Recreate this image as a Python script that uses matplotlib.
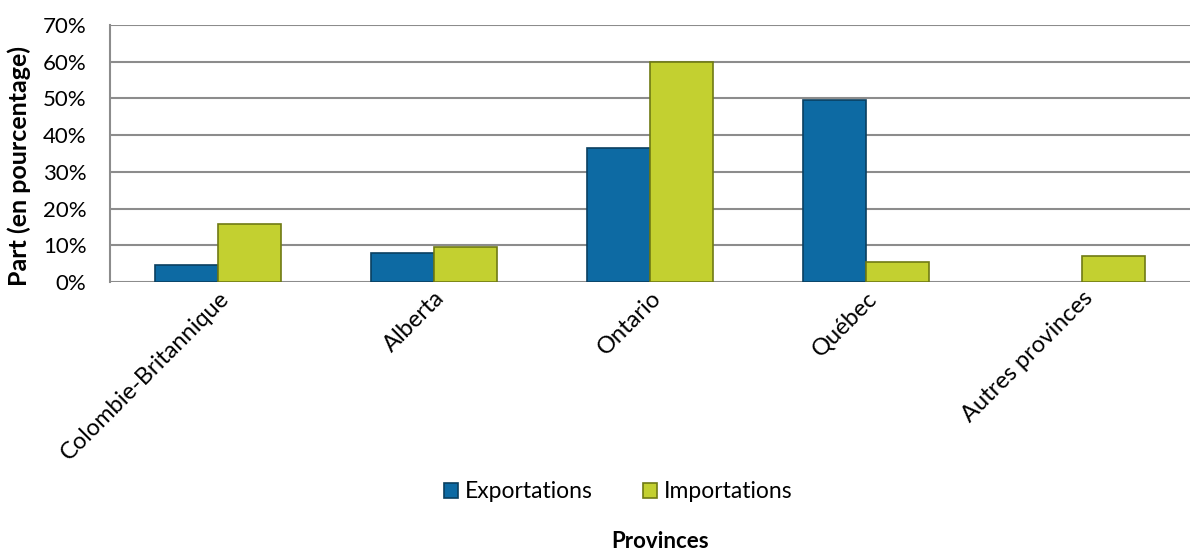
import numpy as np
import matplotlib.pyplot as plt

provinces = ["Colombie-Britannique", "Alberta", "Ontario", "Québec", "Autres provinces"]
exportations = [4.5, 7.8, 36.5, 49.5, 0.0]
importations = [15.8, 9.6, 59.8, 5.5, 7.1]
yticks = [0, 10, 20, 30, 40, 50, 60, 70]

plt.rcParams['font.family'] = ['Lato', 'DejaVu Sans']

fig = plt.figure(figsize=(12.01, 5.54), dpi=100)
ax = fig.add_axes([0.0916, 0.491, 0.8994, 0.464])

x = np.arange(len(provinces))
w = 0.29
b1 = ax.bar(x - w / 2, exportations, w, color="#0d6aa3", edgecolor="#0a3f60",
            linewidth=[1.2 if v > 0 else 0 for v in exportations],
            label="Exportations", zorder=3)
b2 = ax.bar(x + w / 2, importations, w, color="#c3d030", edgecolor="#6f7a14",
            linewidth=1.2, label="Importations", zorder=3)

ax.set_xlim(-0.5, len(provinces) - 0.5)
ax.set_ylim(0, 70)
ax.set_yticks(yticks)
ax.set_yticklabels([f"{v}%" for v in yticks], fontsize=16)
ax.yaxis.grid(True, color="#8c8c8c", linewidth=1.5, zorder=0)
ax.tick_params(axis="y", length=0, pad=17)
ax.tick_params(axis="x", length=0, pad=4)
ax.set_xticks(x)
ax.set_xticklabels(provinces, rotation=45, ha="right", rotation_mode="anchor", fontsize=17)

for s in ["top", "right", "bottom"]:
    ax.spines[s].set_visible(False)
ax.spines["left"].set_color("#8c8c8c")
ax.spines["left"].set_linewidth(1.5)

ax.set_ylabel("Part (en pourcentage)", fontsize=18, fontweight="bold")
ax.yaxis.set_label_coords(-0.073, 0.45)

fig.legend(handles=[b1, b2], loc="center", bbox_to_anchor=(0.515, 0.112), ncol=2,
           frameon=False, fontsize=16.5, handlelength=0.6, handleheight=0.6,
           handletextpad=0.3, columnspacing=2.2)
fig.text(0.55, 0.003, "Provinces", ha="center", va="bottom", fontsize=16, fontweight="bold")

fig.savefig("out.png", dpi=100)
